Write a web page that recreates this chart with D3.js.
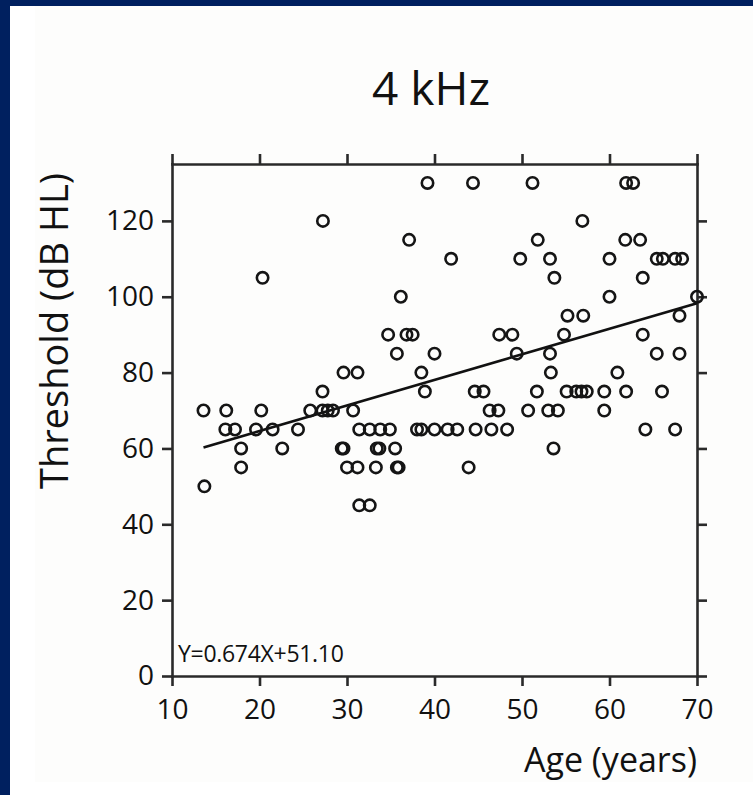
<!DOCTYPE html>
<html>
<head>
<meta charset="utf-8">
<script src="https://cdn.jsdelivr.net/npm/d3@7"></script>
<style>
  body { margin: 0; background: #ffffff; }
  .axis text { font-family: "Open Sans", sans-serif; font-size: 28px; fill: #111111; }
  .axis path, .axis line { stroke: #2a2a2a; stroke-width: 2.6px; }
</style>
</head>
<body>
<div class="chart"></div>
<script>
// values, one entry per subject
var ages = [
  39.2, 44.4, 51.2, 61.9, 62.7,
  27.25, 56.9,
  37.1, 51.8, 61.8, 63.5,
  41.9, 49.8, 53.2, 60.0, 65.4, 66.1, 67.5, 68.3,
  20.35, 53.7, 63.8,
  36.15, 60.0, 70.0,
  55.2, 57.0, 68.0,
  34.7, 36.8, 37.5, 47.4, 48.9, 54.8, 63.8,
  35.7, 40.0, 49.4, 53.2, 65.4, 68.0,
  29.6, 31.2, 38.5, 53.3, 60.9,
  27.2, 38.9, 44.6, 45.6, 51.7, 55.1, 56.2, 56.8, 57.4, 59.4, 61.9, 66.0,
  13.6, 16.2, 20.2, 25.8, 27.2, 27.8, 28.4, 30.7, 46.3, 47.3, 50.7, 53.0, 54.1, 59.4,
  16.1, 17.2, 19.6, 21.5, 24.4, 31.4, 32.6, 33.8, 34.9, 38.0, 38.5, 40.0, 41.5, 42.6, 44.7, 46.5, 48.3, 64.1, 67.5,
  17.9, 22.6, 29.4, 29.6, 33.4, 33.7, 35.5, 53.6,
  17.9, 30.0, 31.2, 33.3, 35.7, 35.9, 43.9,
  13.7,
  31.4, 32.6
];
var thresholds = [
  130, 130, 130, 130, 130,
  120, 120,
  115, 115, 115, 115,
  110, 110, 110, 110, 110, 110, 110, 110,
  105, 105, 105,
  100, 100, 100,
  95, 95, 95,
  90, 90, 90, 90, 90, 90, 90,
  85, 85, 85, 85, 85, 85,
  80, 80, 80, 80, 80,
  75, 75, 75, 75, 75, 75, 75, 75, 75, 75, 75, 75,
  70, 70, 70, 70, 70, 70, 70, 70, 70, 70, 70, 70, 70, 70,
  65, 65, 65, 65, 65, 65, 65, 65, 65, 65, 65, 65, 65, 65, 65, 65, 65, 65, 65,
  60, 60, 60, 60, 60, 60, 60, 60,
  55, 55, 55, 55, 55, 55, 55,
  50,
  45, 45
];

var xTicks = [10, 20, 30, 40, 50, 60, 70];
var yTicks = [0, 20, 40, 60, 80, 100, 120];

// linear fit printed in the corner
var slope = 0.674;
var intercept = 51.10;
var fitRange = [13.6, 70];

var svgWidth = 753;
var svgHeight = 795;

var svg = d3
  .select(".chart")
  .append("svg")
  .attr("width", svgWidth)
  .attr("height", svgHeight);

// navy frame on top and left, faint off-white panel
svg.append("rect").attr("x", 0).attr("y", 0).attr("width", svgWidth).attr("height", svgHeight).attr("fill", "#ffffff");
svg.append("rect").attr("x", 35).attr("y", 6).attr("width", svgWidth - 35).attr("height", 776).attr("fill", "#fdfdfc");
svg.append("rect").attr("x", 0).attr("y", 0).attr("width", svgWidth).attr("height", 6).attr("fill", "#00205f");
svg.append("rect").attr("x", 0).attr("y", 0).attr("width", 10).attr("height", svgHeight).attr("fill", "#00205f");

var x = d3.scaleLinear().domain([10, 70]).range([172, 697]);
var y = d3.scaleLinear().domain([0, 135]).range([676, 164]);

var tick = 10;

svg.append("g")
  .attr("class", "axis")
  .attr("transform", "translate(0," + y(0) + ")")
  .call(d3.axisBottom(x).tickValues(xTicks).tickSize(tick).tickSizeOuter(0).tickPadding(13));

svg.append("g")
  .attr("class", "axis")
  .attr("transform", "translate(" + x(10) + ",0)")
  .call(d3.axisLeft(y).tickValues(yTicks).tickSize(tick).tickSizeOuter(0).tickPadding(8));

// top and right axes: ticks only
svg.append("g")
  .attr("class", "axis")
  .attr("transform", "translate(0," + y(135) + ")")
  .call(d3.axisTop(x).tickValues(xTicks).tickSize(tick).tickSizeOuter(0).tickFormat(""));

svg.append("g")
  .attr("class", "axis")
  .attr("transform", "translate(" + x(70) + ",0)")
  .call(d3.axisRight(y).tickValues(yTicks).tickSize(tick).tickSizeOuter(0).tickFormat(""));

svg.selectAll(".axis .domain").attr("stroke-linecap", "square");

// regression line
var fit = fitRange.map(function(a) { return [a, slope * a + intercept]; });
svg.append("path")
  .datum(fit)
  .attr("fill", "none")
  .attr("stroke", "#111111")
  .attr("stroke-width", 2.6)
  .attr("d", d3.line().x(function(d) { return x(d[0]); }).y(function(d) { return y(d[1]); }));

// points
svg.append("g")
  .selectAll("circle")
  .data(ages)
  .enter()
  .append("circle")
  .attr("cx", function(d) { return x(d); })
  .attr("cy", function(d, i) { return y(thresholds[i]); })
  .attr("r", 5.7)
  .attr("fill", "none")
  .attr("stroke", "#151515")
  .attr("stroke-width", 2.6);

// texts
svg.append("text")
  .attr("x", 431)
  .attr("y", 105)
  .attr("text-anchor", "middle")
  .attr("font-family", "Open Sans, sans-serif")
  .attr("font-size", "46px")
  .attr("fill", "#111111")
  .text("4 kHz");

svg.append("text")
  .attr("x", 178)
  .attr("y", 662)
  .attr("font-family", "Open Sans, sans-serif")
  .attr("font-size", "23px")
  .attr("letter-spacing", "-0.3px")
  .attr("fill", "#111111")
  .text("Y=" + slope.toFixed(3) + "X+" + intercept.toFixed(2));

svg.append("text")
  .attr("transform", "translate(68,331) rotate(-90)")
  .attr("text-anchor", "middle")
  .attr("font-family", "Open Sans, sans-serif")
  .attr("font-size", "38px")
  .attr("fill", "#111111")
  .text("Threshold (dB HL)");

svg.append("text")
  .attr("x", 697)
  .attr("y", 772)
  .attr("text-anchor", "end")
  .attr("font-family", "Open Sans, sans-serif")
  .attr("font-size", "34px")
  .attr("fill", "#111111")
  .text("Age (years)");
</script>
</body>
</html>
